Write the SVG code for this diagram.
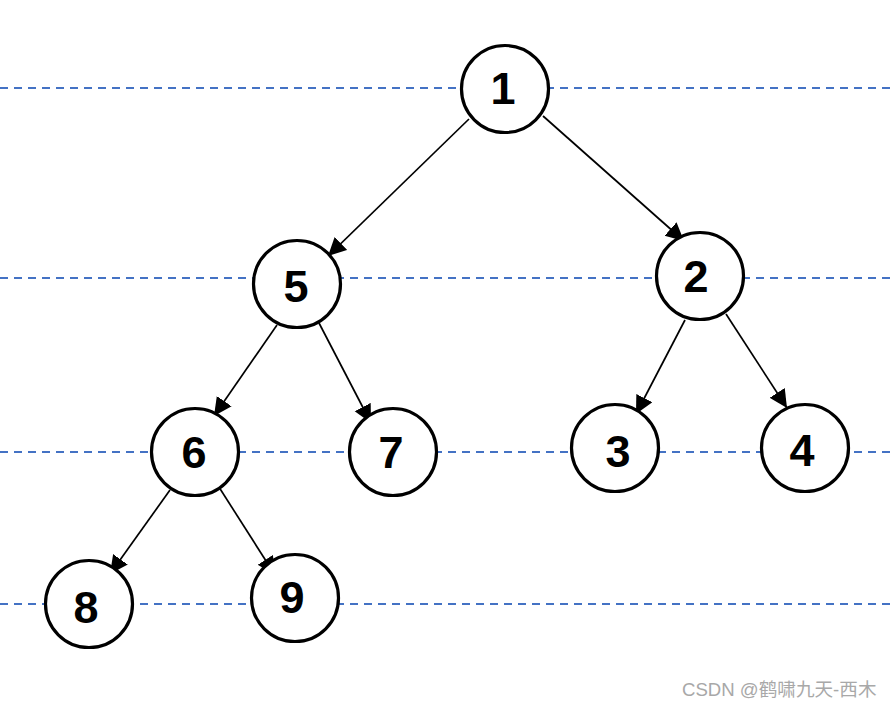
<svg xmlns="http://www.w3.org/2000/svg" width="894" height="708" viewBox="0 0 894 708">
<defs>
<style>
.guide{stroke:#4472c4;stroke-width:2;stroke-dasharray:8 6;fill:none}
.node circle{fill:#fff;stroke:#000;stroke-width:3.2}
.node text{font-family:"Liberation Sans",Arial,sans-serif;font-weight:bold;font-size:45px;text-anchor:middle;fill:#000}
.edge{stroke:#000;stroke-width:1.7;fill:none;marker-end:url(#arr)}
.wm{font-family:"Liberation Sans","Noto Sans CJK SC",sans-serif;font-size:18.6px;fill:#a8a8a8}
</style>
<marker id="arr" markerUnits="userSpaceOnUse" markerWidth="22" markerHeight="22" refX="18" refY="9" orient="auto">
<path d="M0,0 L18,9 L0,18 Z" fill="#000"/>
</marker>
</defs>
<rect width="894" height="708" fill="#fff"/>
<g id="guides">
<line class="guide" x1="0" y1="88" x2="894" y2="88"/>
<line class="guide" x1="0" y1="278" x2="894" y2="278"/>
<line class="guide" x1="0" y1="452" x2="894" y2="452"/>
<line class="guide" x1="0" y1="604" x2="894" y2="604"/>
</g>
<g id="connectors">
<line class="edge" x1="469" y1="119" x2="328" y2="256"/>
<line class="edge" x1="543" y1="116" x2="684" y2="241"/>
<line class="edge" x1="277" y1="325" x2="214" y2="416"/>
<line class="edge" x1="319" y1="323" x2="371" y2="423"/>
<line class="edge" x1="685" y1="320" x2="636" y2="414"/>
<line class="edge" x1="726" y1="314" x2="787" y2="408"/>
<line class="edge" x1="170" y1="490" x2="110" y2="574"/>
<line class="edge" x1="217" y1="484" x2="275" y2="575"/>
</g>
<g id="n1" class="node"><circle cx="505" cy="89" r="43.5"/><text x="503" y="104">1</text></g>
<g id="n5" class="node"><circle cx="297" cy="284" r="43.5"/><text x="296" y="302">5</text></g>
<g id="n2" class="node"><circle cx="700" cy="276" r="43.5"/><text x="696" y="292">2</text></g>
<g id="n6" class="node"><circle cx="195" cy="452" r="43.5"/><text x="194" y="468">6</text></g>
<g id="n7" class="node"><circle cx="393" cy="452" r="43.5"/><text x="391" y="468">7</text></g>
<g id="n3" class="node"><circle cx="615" cy="448" r="43.5"/><text x="618" y="467">3</text></g>
<g id="n4" class="node"><circle cx="805" cy="448" r="43.5"/><text x="802" y="466">4</text></g>
<g id="n8" class="node"><circle cx="89" cy="604" r="43.5"/><text x="86" y="623">8</text></g>
<g id="n9" class="node"><circle cx="295" cy="598" r="43.5"/><text x="292" y="613">9</text></g>
<text class="wm" x="682" y="696">CSDN @鹤啸九天-西木</text>
</svg>
